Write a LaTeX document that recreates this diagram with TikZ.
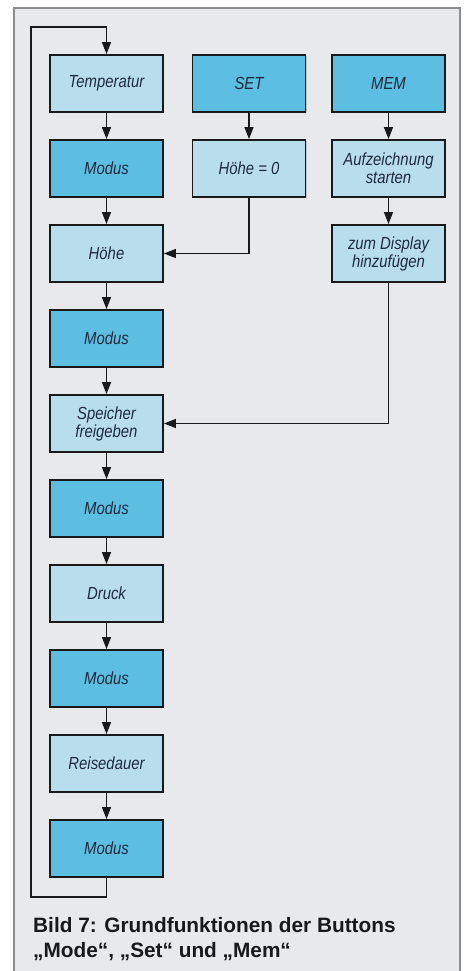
\documentclass[tikz,border=0pt]{standalone}
\usepackage{fontspec}
\setmainfont{Liberation Sans}
\newfontfamily\boxfont{Liberation Sans}[FakeStretch=0.85]
\usepackage{xcolor}
\usetikzlibrary{arrows.meta,positioning,shadows}
\definecolor{pagegray}{RGB}{232,233,235}
\definecolor{framegray}{RGB}{140,140,142}
\definecolor{lightblue}{RGB}{184,221,236}
\definecolor{darkblue}{RGB}{92,190,224}
\definecolor{inkblue}{RGB}{32,42,62}
\tikzset{
  box/.style={rectangle, draw=black!90, line width=1.8pt, fill=#1,
              minimum width=113pt, minimum height=57pt, inner sep=2pt,
              text=inkblue, align=center,
              font=\boxfont\itshape\fontsize{17.5}{18}\selectfont,
              drop shadow={shadow xshift=1.2pt, shadow yshift=-1.2pt, opacity=0.35}},
  lbox/.style={box=lightblue},
  dbox/.style={box=darkblue},
  arr/.style={-{Triangle[length=12pt,width=9pt]}, line width=1.3pt, black!90},
  caption/.style={anchor=base west, inner sep=0pt,
                  font=\bfseries\fontsize{20.8}{25}\selectfont, text=black!90},
}
\begin{document}
\begin{tikzpicture}[x=1pt, y=-1pt]
        % Page and frame
        \fill[white] (0,0) rectangle (465,971);
        \useasboundingbox (0,0) rectangle (465,971);
        \fill[pagegray] (14,8) rectangle (460,971);
        \draw[framegray, line width=1.6pt] (14,971) -- (14,8) -- (460,8) -- (460,971);

        % Mode column
        \node[lbox] (temp)   at (106.5,83.5)  {Temperatur};
        \node[dbox] (modA)   at (106.5,168.5) {Modus};
        \node[lbox] (hoehe)  at (106.5,253.5) {Höhe};
        \node[dbox] (modB)   at (106.5,338.5) {Modus};
        \node[lbox] (speich) at (106.5,423.5) {Speicher\\freigeben};
        \node[dbox] (modC)   at (106.5,508.5) {Modus};
        \node[lbox] (druck)  at (106.5,593.5) {Druck};
        \node[dbox] (modD)   at (106.5,678.5) {Modus};
        \node[lbox] (reise)  at (106.5,763.5) {Reisedauer};
        \node[dbox] (modE)   at (106.5,848.5) {Modus};

        % Set column
        \node[dbox] (set)    at (249,83.5)    {SET};
        \node[lbox] (hzero)  at (249,168.5)   {Höhe = 0};

        % Mem column
        \node[dbox] (mem)    at (388.5,83.5)  {MEM};
        \node[lbox] (aufz)   at (388.5,168.5) {Aufzeichnung\\starten};
        \node[lbox] (disp)   at (388.5,253.5) {zum Display\\hinzufügen};

        % Mode chain
        \draw[arr] (temp)   -- (modA);
        \draw[arr] (modA)   -- (hoehe);
        \draw[arr] (hoehe)  -- (modB);
        \draw[arr] (modB)   -- (speich);
        \draw[arr] (speich) -- (modC);
        \draw[arr] (modC)   -- (druck);
        \draw[arr] (druck)  -- (modD);
        \draw[arr] (modD)   -- (reise);
        \draw[arr] (reise)  -- (modE);

        % Loop back to the top
        \coordinate (loopB) at (31,897);
        \coordinate (loopT) at (31,27);
        \draw[arr] (modE.south) |- (loopB) -- (loopT) -| (temp.north);

        % Set and Mem
        \draw[arr] (set)  -- (hzero);
        \draw[arr] (hzero.south) |- (hoehe.east);
        \draw[arr] (mem)  -- (aufz);
        \draw[arr] (aufz) -- (disp);
        \draw[arr] (disp.south) |- (speich.east);

        % Caption
        \node[caption] (capA) at (33,932) {Bild 7: Grundfunktionen der Buttons};
        \node[caption] (capB) at (33,957) {„Mode“, „Set“ und „Mem“};
\end{tikzpicture}
\end{document}
